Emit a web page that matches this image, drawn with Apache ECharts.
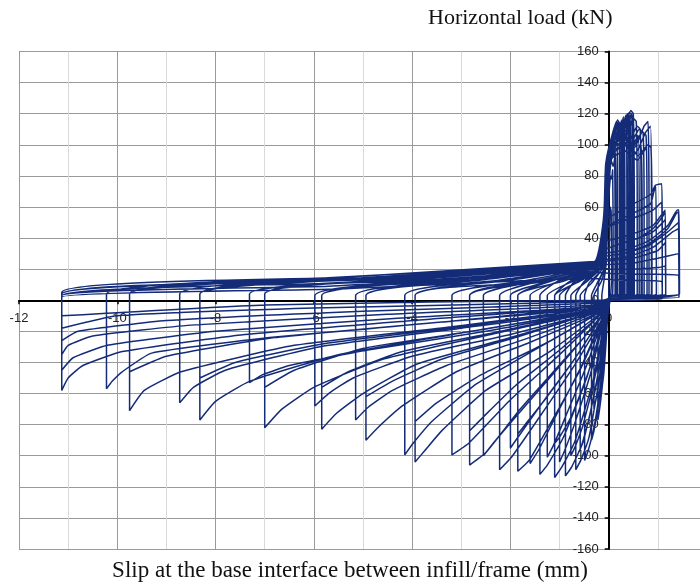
<!DOCTYPE html>
<html>
<head>
<meta charset="utf-8">
<script src="https://cdn.jsdelivr.net/npm/echarts@6/dist/echarts.min.js"></script>
<style>
html,body{margin:0;padding:0;background:#fff;}
#chart{width:700px;height:586px;}
</style>
</head>
<body>
<div id="chart"></div>
<script>
// Axis ticks
const xTicks = [-12, -10, -8, -6, -4, -2, 0, 2];
const yTicks = [-160, -140, -120, -100, -80, -60, -40, -20, 0, 20, 40, 60, 80, 100, 120, 140, 160];

// Hysteresis cycles: [slip (mm), horizontal load (kN)]
const cycle01 = [[0,0],[0.01,30],[0.02,52],[0.03,60],[0.05,57],[0.06,20],[0.04,3],[-0.02,-10],[-0.06,-30],[-0.1,-47],[-0.13,-55],[-0.14,-58],[-0.14,3]];
const cycle02 = [[-0.09,14],[-0.05,24],[-0.02,50],[0.01,70],[0.04,80],[0.06,78],[0.08,84],[0.09,40],[0.08,4],[0.02,2],[-0.03,-12],[-0.08,-36],[-0.14,-58],[-0.19,-71],[-0.22,-77],[-0.22,3]];
const cycle03 = [[-0.2,12],[-0.08,21],[-0.04,48],[0.0,76],[0.05,90],[0.09,86],[0.14,95],[0.15,40],[0.15,4],[0.03,2],[-0.04,-10],[-0.12,-35],[-0.22,-58],[-0.28,-67],[-0.3,-70],[-0.3,3]];
const cycle04 = [[-0.15,12],[-0.07,21],[-0.03,45],[0.0,70],[0.04,88],[0.08,96],[0.1,92],[0.12,98],[0.13,50],[0.13,4],[0.03,2],[-0.04,-14],[-0.11,-42],[-0.21,-68],[-0.3,-84],[-0.35,-90],[-0.35,3]];
const cycle05 = [[-0.25,10],[-0.1,20],[-0.05,40],[-0.02,72],[0.02,90],[0.08,100],[0.12,96],[0.17,106],[0.18,55],[0.18,4],[0.03,2],[-0.05,-16],[-0.16,-52],[-0.3,-82],[-0.42,-97],[-0.49,-103],[-0.49,3]];
const cycle06 = [[-0.4,11],[-0.11,21],[-0.06,50],[-0.02,82],[0.04,98],[0.11,106],[0.17,102],[0.24,110],[0.25,50],[0.25,4],[0.04,2],[-0.06,-13],[-0.2,-44],[-0.4,-76],[-0.52,-90],[-0.58,-96],[-0.58,3]];
const cycle07 = [[-0.35,11],[-0.12,21],[-0.06,42],[-0.03,75],[0.03,94],[0.1,104],[0.15,100],[0.21,112],[0.22,60],[0.22,4],[0.04,2],[-0.07,-17],[-0.2,-52],[-0.4,-88],[-0.57,-103],[-0.67,-109],[-0.67,3]];
const cycle08 = [[-0.5,12],[-0.14,22],[-0.07,52],[-0.03,85],[0.05,100],[0.13,109],[0.2,104],[0.28,114],[0.29,50],[0.29,4],[0.04,2],[-0.08,-14],[-0.25,-45],[-0.52,-80],[-0.68,-94],[-0.77,-100],[-0.77,3]];
const cycle09 = [[-0.45,12],[-0.12,22],[-0.07,45],[-0.03,78],[0.04,96],[0.12,108],[0.18,103],[0.26,116],[0.27,60],[0.27,4],[0.04,2],[-0.08,-17],[-0.25,-54],[-0.52,-91],[-0.75,-107],[-0.88,-113],[-0.88,3]];
const cycle10 = [[-0.7,12],[-0.16,22],[-0.08,54],[-0.04,86],[0.05,102],[0.14,111],[0.22,106],[0.32,116],[0.33,50],[0.33,4],[0.05,2],[-0.1,-13],[-0.35,-45],[-0.7,-80],[-0.9,-97],[-1.0,-104],[-1.0,3]];
const cycle11 = [[-0.6,13],[-0.15,22],[-0.08,46],[-0.04,80],[0.04,98],[0.12,110],[0.2,105],[0.3,118],[0.31,60],[0.31,4],[0.05,2],[-0.1,-16],[-0.32,-52],[-0.68,-90],[-0.95,-107],[-1.1,-114],[-1.1,3]];
const cycle12 = [[-0.6,12],[-0.15,21],[-0.08,42],[-0.04,72],[0.04,92],[0.14,102],[0.22,99],[0.29,108],[0.3,50],[0.3,4],[0.05,2],[-0.12,-14],[-0.4,-45],[-0.75,-74],[-1.0,-88],[-1.1,-92],[-1.1,3]];
const cycle13 = [[-0.8,12],[-0.18,23],[-0.09,55],[-0.05,88],[0.05,104],[0.15,113],[0.25,108],[0.36,117],[0.37,50],[0.37,4],[0.05,2],[-0.12,-12],[-0.45,-42],[-0.88,-75],[-1.12,-93],[-1.25,-101],[-1.25,3]];
const cycle14 = [[-0.75,12],[-0.18,23],[-0.08,48],[-0.04,82],[0.05,100],[0.14,112],[0.24,107],[0.35,119],[0.37,117],[0.38,55],[0.38,4],[0.05,2],[-0.12,-15],[-0.45,-50],[-0.92,-88],[-1.25,-106],[-1.4,-112],[-1.4,3]];
const cycle15 = [[-1.0,13],[-0.2,23],[-0.09,56],[-0.05,90],[0.05,104],[0.16,115],[0.27,110],[0.4,120],[0.41,50],[0.41,4],[0.05,2],[-0.14,-12],[-0.55,-42],[-1.1,-76],[-1.42,-96],[-1.6,-105],[-1.6,3]];
const cycle16 = [[-0.95,13],[-0.2,23],[-0.09,50],[-0.05,84],[0.05,102],[0.15,114],[0.26,109],[0.38,120],[0.42,118],[0.44,60],[0.44,4],[0.05,2],[-0.15,-14],[-0.6,-46],[-1.2,-80],[-1.62,-103],[-1.85,-110],[-1.85,3]];
const cycle17 = [[-0.95,12],[-0.2,22],[-0.09,46],[-0.05,78],[0.05,96],[0.16,106],[0.28,102],[0.4,112],[0.42,50],[0.42,4],[0.05,2],[-0.18,-12],[-0.7,-38],[-1.3,-64],[-1.7,-80],[-1.85,-86],[-1.85,3]];
const cycle18 = [[-1.1,13],[-0.22,23],[-0.1,55],[-0.05,88],[0.06,104],[0.18,114],[0.3,109],[0.44,119],[0.45,50],[0.45,4],[0.05,2],[-0.16,-11],[-0.7,-38],[-1.35,-66],[-1.8,-86],[-2.0,-95],[-2.0,3]];
const cycle19 = [[-1.1,13],[-0.22,23],[-0.09,50],[-0.05,86],[0.06,104],[0.16,115],[0.28,110],[0.42,121],[0.47,119],[0.49,60],[0.49,4],[0.05,2],[-0.15,-13],[-0.7,-42],[-1.45,-77],[-1.98,-101],[-2.22,-109],[-2.22,3]];
const cycle20 = [[-1.3,13],[-0.25,23],[-0.1,55],[-0.05,88],[0.06,102],[0.2,114],[0.32,108],[0.47,120],[0.48,50],[0.48,4],[0.05,2],[-0.18,-11],[-0.85,-37],[-1.7,-68],[-2.3,-90],[-2.55,-100],[-2.55,3]];
const cycle21 = [[-1.3,13],[-0.25,23],[-0.1,52],[-0.05,86],[0.06,103],[0.18,116],[0.3,110],[0.45,122],[0.5,120],[0.52,60],[0.52,4],[0.05,2],[-0.18,-12],[-0.9,-38],[-1.8,-70],[-2.5,-98],[-2.83,-106],[-2.83,3]];
const cycle22 = [[-1.3,12],[-0.25,22],[-0.1,48],[-0.05,80],[0.06,98],[0.2,108],[0.32,103],[0.46,114],[0.48,50],[0.48,4],[0.05,2],[-0.2,-10],[-1.0,-32],[-1.9,-55],[-2.55,-75],[-2.83,-84],[-2.83,3]];
const cycle23 = [[-1.6,13],[-0.3,23],[-0.1,52],[-0.06,86],[0.06,104],[0.2,112],[0.35,107],[0.5,117],[0.56,115],[0.58,60],[0.58,4],[0.05,2],[-0.2,-10],[-1.0,-35],[-2.0,-64],[-2.85,-92],[-3.19,-99.5],[-3.19,3]];
const cycle24 = [[-1.8,12],[-0.3,23],[-0.1,54],[-0.06,88],[0.07,104],[0.25,110],[0.42,103],[0.58,112],[0.64,110],[0.66,55],[0.66,4],[0.05,2],[-0.2,-9],[-1.2,-33],[-2.5,-58],[-3.4,-84],[-3.75,-97],[-3.94,-104],[-3.94,3]];
const cycle25 = [[-1.8,11],[-0.3,22],[-0.1,50],[-0.06,82],[0.07,98],[0.26,104],[0.44,98],[0.6,106],[0.62,50],[0.62,4],[0.05,2],[-0.22,-8],[-1.3,-28],[-2.6,-48],[-3.5,-66],[-3.94,-78],[-3.94,3]];
const cycle26 = [[-2.1,12.5],[-0.3,23],[-0.1,54],[-0.06,88],[0.07,102],[0.25,108],[0.45,101],[0.62,110],[0.7,108],[0.72,55],[0.72,4],[0.05,2],[-0.2,-8],[-1.4,-30],[-2.7,-54],[-3.6,-78],[-3.98,-92],[-4.15,-99.5],[-4.15,3]];
const cycle27 = [[-2.2,13],[-0.3,24],[-0.1,54],[-0.06,88],[0.08,100],[0.3,106],[0.5,99],[0.68,108],[0.76,106],[0.78,50],[0.78,4],[0.05,2],[-0.22,-8],[-1.6,-27],[-3.1,-46],[-4.2,-68],[-4.7,-82],[-4.94,-90],[-4.94,3]];
const cycle28 = [[-2.4,12],[-0.3,23],[-0.1,50],[-0.06,80],[0.08,94],[0.32,100],[0.52,94],[0.66,100],[0.68,50],[0.68,4],[0.05,2],[-0.25,-7],[-1.8,-23],[-3.4,-38],[-4.4,-52],[-4.94,-62],[-4.94,3]];
const cycle29 = [[-2.6,13],[-0.3,24],[-0.1,54],[-0.06,88],[0.08,100],[0.3,104],[0.52,98],[0.72,112],[0.8,115],[0.82,60],[0.82,4],[0.05,2],[-0.22,-7],[-1.7,-25],[-3.3,-42],[-4.4,-58],[-4.9,-69],[-5.15,-77],[-5.15,3]];
const cycle30 = [[-2.7,13],[-0.3,24],[-0.1,54],[-0.06,86],[0.08,98],[0.3,102],[0.55,95],[0.75,108],[0.85,112],[0.87,55],[0.87,4],[0.05,2],[-0.25,-7],[-2.0,-24],[-3.9,-41],[-5.0,-60],[-5.55,-73],[-5.84,-83],[-5.84,3]];
const cycle31 = [[-3.0,12.5],[-0.3,23],[-0.1,50],[-0.06,80],[0.08,92],[0.34,96],[0.58,90],[0.76,98],[0.78,50],[0.78,4],[0.05,2],[-0.28,-6],[-2.2,-20],[-4.2,-33],[-5.3,-46],[-5.84,-56],[-5.84,3]];
const cycle32 = [[-3.0,13.5],[-0.3,24],[-0.1,52],[-0.06,84],[0.08,96],[0.35,100],[0.6,93],[0.8,100],[0.86,98],[0.88,50],[0.88,4],[0.05,2],[-0.25,-7],[-2.0,-22],[-4.0,-36],[-5.2,-50],[-5.7,-60],[-5.98,-68],[-5.98,3]];
const cycle33 = [[-3.1,13.5],[-0.3,24],[-0.1,44],[-0.06,52],[0.1,55],[0.5,62],[0.85,68],[0.95,74],[1.08,75],[1.09,40],[1.09,4],[0.05,2],[-0.3,-7],[-2.4,-22],[-4.6,-38],[-6.0,-56],[-6.65,-70],[-7.0,-82],[-7.0,4]];
const cycle34 = [[-3.6,13],[-0.3,23],[-0.1,40],[-0.06,46],[0.1,50],[0.5,56],[0.85,62],[0.92,70],[0.96,73],[0.97,4],[0.05,2],[-0.32,-6],[-2.6,-19],[-5.0,-31],[-6.4,-45],[-7.0,-56],[-7.0,4]];
const cycle35 = [[-3.6,14],[-0.3,24],[-0.1,40],[-0.06,46],[0.2,50],[0.6,54],[0.9,58],[1.04,62],[1.08,63],[1.09,4],[0.05,2],[-0.3,-6],[-2.5,-20],[-4.9,-32],[-6.5,-42],[-7.05,-48],[-7.31,-53],[-7.31,4]];
const cycle36 = [[-3.8,14],[-0.3,24],[-0.1,34],[-0.06,38],[0.2,40],[0.6,44],[0.9,48],[1.1,56],[1.15,58],[1.16,4],[0.05,2],[-0.3,-6],[-2.8,-20],[-5.5,-35],[-7.3,-52],[-8.0,-65],[-8.32,-77],[-8.32,4]];
const cycle37 = [[-4.2,14],[-0.3,23],[-0.1,32],[0.2,36],[0.6,40],[0.9,44],[1.1,50],[1.15,52],[1.16,4],[0.05,2],[-0.32,-5],[-3.0,-17],[-5.8,-28],[-7.6,-40],[-8.32,-50],[-8.32,4]];
const cycle38 = [[-4.3,14.5],[-0.3,24],[-0.1,32],[0.2,36],[0.6,40],[0.9,46],[1.1,54],[1.15,57],[1.16,4],[0.05,2],[-0.3,-6],[-3.0,-18],[-5.9,-30],[-7.8,-45],[-8.45,-56],[-8.73,-66],[-8.73,4]];
const cycle39 = [[-4.5,14.5],[-0.3,24],[-0.1,30],[0.3,32],[0.8,38],[1.2,48],[1.4,58],[1.43,58],[1.44,4],[0.05,2],[-0.3,-5],[-3.2,-17],[-6.4,-29],[-8.7,-46],[-9.45,-58],[-9.75,-71],[-9.75,4]];
const cycle40 = [[-5.0,14],[-0.3,23],[-0.1,28],[0.3,30],[0.8,35],[1.2,44],[1.42,50],[1.43,4],[0.05,2],[-0.32,-4],[-3.4,-14],[-6.8,-24],[-9.0,-36],[-9.75,-46],[-9.75,4]];
const cycle41 = [[-5.0,14.5],[-0.3,24],[-0.1,28],[0.3,30],[0.8,36],[1.2,46],[1.38,56],[1.42,57],[1.43,4],[0.05,2],[-0.3,-5],[-3.4,-14],[-6.9,-24],[-9.3,-34],[-9.9,-46],[-10.1,-52],[-10.22,-57],[-10.22,4]];
const cycle42 = [[-5.3,15],[-0.3,25],[-0.1,26],[0.4,28],[0.9,34],[1.3,44],[1.42,46],[1.43,4],[0.05,2],[-0.3,-4],[-3.6,-12],[-7.4,-22],[-9.9,-33],[-10.7,-42],[-11.0,-50],[-11.13,-58],[-11.13,5]];
const cycle43 = [[-5.7,14.5],[-0.3,24],[-0.1,25],[0.5,27],[1.0,32],[1.15,37],[1.16,4],[0.05,2],[-0.3,-4],[-4.0,-11],[-8.0,-20],[-10.2,-29],[-10.9,-37],[-11.13,-45],[-11.13,4]];
const cycle44 = [[-5.7,13],[-0.3,22],[-0.1,23],[0.5,24],[1.0,27],[1.42,30],[1.43,4],[0.05,1],[-0.3,-3],[-4.5,-9],[-8.5,-16],[-10.5,-23],[-11.0,-29],[-11.13,-35],[-11.13,3]];
const cycle45 = [[-5.7,11],[-0.3,20],[0.4,20],[1.0,21],[1.15,22],[1.16,3],[0.05,1],[-0.3,-2],[-5,-7],[-9,-13],[-10.8,-20],[-11.13,-26],[-11.13,3]];
const cycle46 = [[-5.7,9],[-0.3,18],[0.2,17],[1.42,16],[1.43,2],[0.05,1],[-0.3,-1],[-6,-5],[-10,-10],[-11.13,-18],[-11.13,2]];
const cycle47 = [[-5.7,7],[-0.3,14],[0.2,13],[1.08,12],[1.09,1],[0.05,0],[-0.3,0],[-7,-3],[-11.13,-10],[-11.13,1]];

const cycles = [cycle01, cycle02, cycle03, cycle04, cycle05, cycle06, cycle07, cycle08, cycle09, cycle10,
  cycle11, cycle12, cycle13, cycle14, cycle15, cycle16, cycle17, cycle18, cycle19, cycle20,
  cycle21, cycle22, cycle23, cycle24, cycle25, cycle26, cycle27, cycle28, cycle29, cycle30,
  cycle31, cycle32, cycle33, cycle34, cycle35, cycle36, cycle37, cycle38, cycle39, cycle40,
  cycle41, cycle42, cycle43, cycle44, cycle45, cycle46, cycle47];
const path = [].concat(...cycles);

const GRID = {left: 19, top: 51.5, width: 688, height: 497.5};
const chart = echarts.init(document.getElementById('chart'), null, {renderer: 'canvas'});
const labelFont = {fontFamily: 'Liberation Sans, Arial, sans-serif', fontSize: 13, color: '#222'};
chart.setOption({
  animation: false,
  backgroundColor: '#fff',
  grid: Object.assign({containLabel: false, outerBoundsMode: 'none'}, GRID),
  xAxis: {
    type: 'value', min: xTicks[0], max: xTicks[xTicks.length - 1], interval: 2,
    position: 'bottom', offset: 0,
    axisLine: {onZero: false, lineStyle: {color: '#000', width: 2}},
    axisTick: {show: true, inside: false, length: 4, lineStyle: {color: '#000', width: 1.5}},
    axisLabel: Object.assign({margin: 12, showMinLabel: true, showMaxLabel: true, hideOverlap: false,
      formatter: v => (v === 2 ? '' : String(v))}, labelFont),
    splitLine: {show: true, lineStyle: {color: '#9a9a9a', width: 1}},
    minorTick: {show: false, splitNumber: 2},
    minorSplitLine: {show: true, lineStyle: {color: '#d9d9d9', width: 1}}
  },
  yAxis: {
    type: 'value', min: yTicks[0], max: yTicks[yTicks.length - 1], interval: 20,
    position: 'left', offset: 0,
    axisLine: {onZero: false, lineStyle: {color: '#000', width: 2}},
    axisTick: {show: true, inside: false, length: 4, lineStyle: {color: '#000', width: 1.5}},
    axisLabel: Object.assign({margin: 10, showMinLabel: true, showMaxLabel: true, hideOverlap: false}, labelFont),
    splitLine: {show: true, lineStyle: {color: '#9a9a9a', width: 1}}
  },
  graphic: [
    {type: 'text', left: 428, top: 7, style: {text: 'Horizontal load (kN)', font: '22px "Liberation Serif", "Times New Roman", serif', fill: '#111'}},
    {type: 'text', left: 'center', top: 559, style: {text: 'Slip at the base interface between infill/frame (mm)', font: '23px "Liberation Serif", "Times New Roman", serif', fill: '#111'}}
  ],
  series: [{
    type: 'line', data: path, showSymbol: false, smooth: 0.15, z: 5,
    lineStyle: {color: '#142c78', width: 1.5},
    clip: true
  }]
});
// Move the axes so that they cross at the origin, using the library's own scales
const origin = chart.convertToPixel({xAxisIndex: 0, yAxisIndex: 0}, [0, 0]);
chart.setOption({
  xAxis: {offset: origin[1] - (GRID.top + GRID.height)},
  yAxis: {offset: GRID.left - origin[0]}
});
</script>
</body>
</html>
